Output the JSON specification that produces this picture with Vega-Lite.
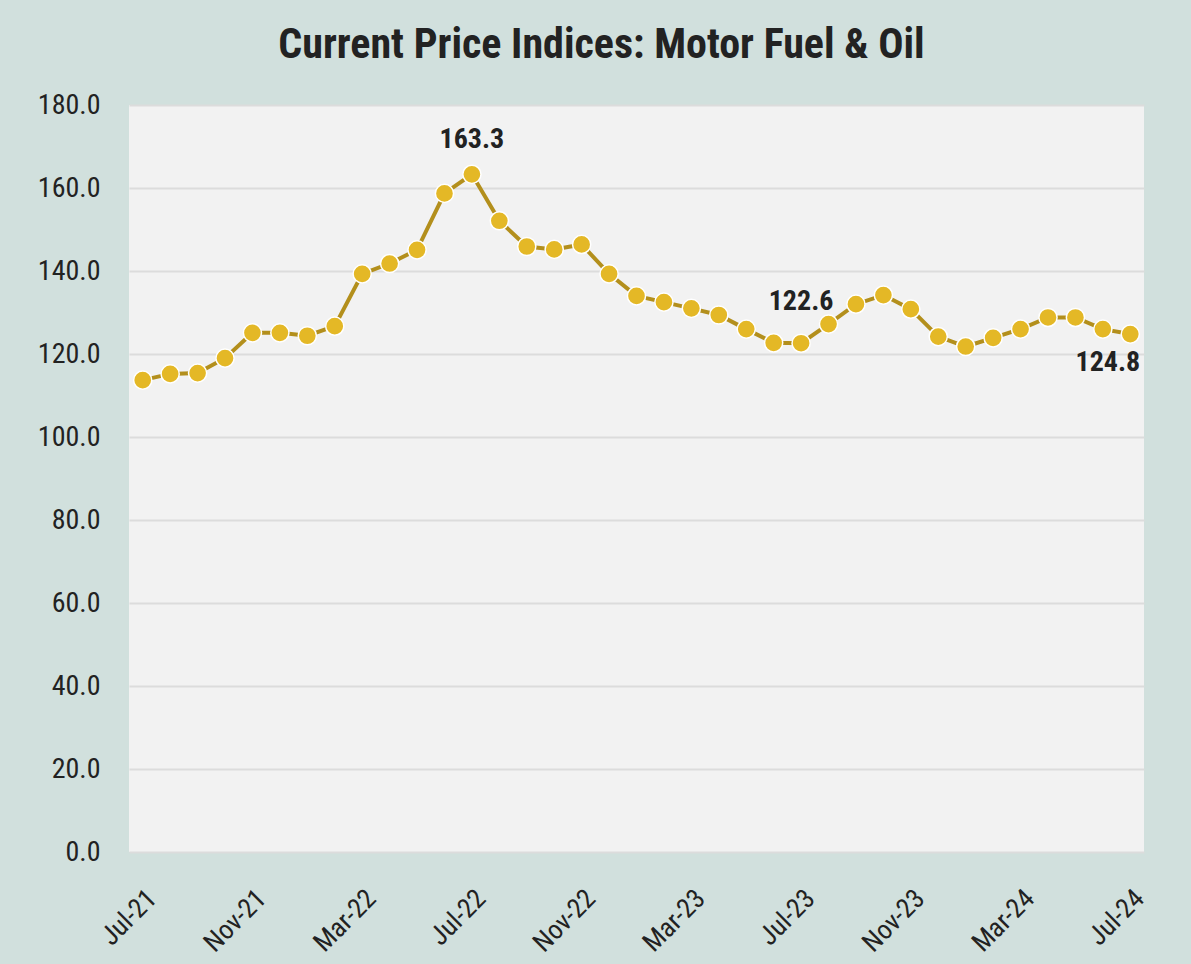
{
  "$schema": "https://vega.github.io/schema/vega-lite/v6.json",
  "width": 1015,
  "height": 747,
  "autosize": {"type": "none"},
  "padding": {"left": 129, "top": 105, "right": 47, "bottom": 112},
  "background": "#d1e0dd",
  "title": {
    "text": "Current Price Indices: Motor Fuel & Oil",
    "font": "Roboto Condensed, Liberation Sans Narrow, Roboto",
    "fontSize": 42,
    "fontWeight": "bold",
    "color": "#222222",
    "anchor": "middle",
    "dx": -35,
    "offset": 24
  },
  "config": {
    "view": {"fill": "#f2f2f2", "stroke": null},
    "font": "Roboto Condensed, Liberation Sans Narrow, Roboto"
  },
  "data": {
    "values": [
      {"month": "Jul-21", "value": 113.7},
      {"month": "Aug-21", "value": 115.2},
      {"month": "Sep-21", "value": 115.4},
      {"month": "Oct-21", "value": 119.0},
      {"month": "Nov-21", "value": 125.1},
      {"month": "Dec-21", "value": 125.1},
      {"month": "Jan-22", "value": 124.4},
      {"month": "Feb-22", "value": 126.7},
      {"month": "Mar-22", "value": 139.3},
      {"month": "Apr-22", "value": 141.8},
      {"month": "May-22", "value": 145.1},
      {"month": "Jun-22", "value": 158.7},
      {"month": "Jul-22", "value": 163.3},
      {"month": "Aug-22", "value": 152.1},
      {"month": "Sep-22", "value": 145.9},
      {"month": "Oct-22", "value": 145.2},
      {"month": "Nov-22", "value": 146.4},
      {"month": "Dec-22", "value": 139.3},
      {"month": "Jan-23", "value": 134.0},
      {"month": "Feb-23", "value": 132.5},
      {"month": "Mar-23", "value": 131.0},
      {"month": "Apr-23", "value": 129.4},
      {"month": "May-23", "value": 126.0},
      {"month": "Jun-23", "value": 122.7},
      {"month": "Jul-23", "value": 122.6},
      {"month": "Aug-23", "value": 127.2},
      {"month": "Sep-23", "value": 132.0},
      {"month": "Oct-23", "value": 134.2},
      {"month": "Nov-23", "value": 130.8},
      {"month": "Dec-23", "value": 124.2},
      {"month": "Jan-24", "value": 121.8},
      {"month": "Feb-24", "value": 123.9},
      {"month": "Mar-24", "value": 126.0},
      {"month": "Apr-24", "value": 128.8},
      {"month": "May-24", "value": 128.8},
      {"month": "Jun-24", "value": 126.0},
      {"month": "Jul-24", "value": 124.8}
    ]
  },
  "encoding": {
    "x": {
      "field": "month",
      "type": "ordinal",
      "sort": null,
      "scale": {"type": "point", "padding": 0.5},
      "axis": {
        "title": null,
        "values": ["Jul-21", "Nov-21", "Mar-22", "Jul-22", "Nov-22", "Mar-23", "Jul-23", "Nov-23", "Mar-24", "Jul-24"],
        "labelAngle": -45,
        "labelAlign": "right",
        "labelBaseline": "top",
        "labelFontSize": 27,
        "labelColor": "#222222",
        "labelPadding": 33,
        "ticks": false,
        "domain": false,
        "grid": false
      }
    },
    "y": {
      "field": "value",
      "type": "quantitative",
      "scale": {"domain": [0, 180], "nice": false, "zero": true},
      "axis": {
        "title": null,
        "values": [0, 20, 40, 60, 80, 100, 120, 140, 160, 180],
        "format": ".1f",
        "labelFontSize": 28,
        "labelColor": "#222222",
        "labelPadding": 29,
        "ticks": false,
        "domain": false,
        "grid": true,
        "gridColor": "#dcdcdc",
        "gridWidth": 2
      }
    }
  },
  "layer": [
    {"mark": {"type": "line", "color": "#b38f1c", "strokeWidth": 4}},
    {"mark": {"type": "point", "filled": true, "fill": "#e4b826", "stroke": "#ffffff", "strokeWidth": 1.5, "size": 330, "opacity": 1}},
    {
      "transform": [{"filter": "datum.month === 'Jul-22'"}],
      "mark": {"type": "text", "fontSize": 28, "fontWeight": "bold", "color": "#222222", "dy": -34, "align": "center", "baseline": "middle"},
      "encoding": {"text": {"field": "value", "type": "quantitative", "format": ".1f"}}
    },
    {
      "transform": [{"filter": "datum.month === 'Jul-23'"}],
      "mark": {"type": "text", "fontSize": 28, "fontWeight": "bold", "color": "#222222", "dy": -41, "align": "center", "baseline": "middle"},
      "encoding": {"text": {"field": "value", "type": "quantitative", "format": ".1f"}}
    },
    {
      "transform": [{"filter": "datum.month === 'Jul-24'"}],
      "mark": {"type": "text", "fontSize": 28, "fontWeight": "bold", "color": "#222222", "dy": 29, "dx": 10, "align": "right", "baseline": "middle"},
      "encoding": {"text": {"field": "value", "type": "quantitative", "format": ".1f"}}
    }
  ]
}
